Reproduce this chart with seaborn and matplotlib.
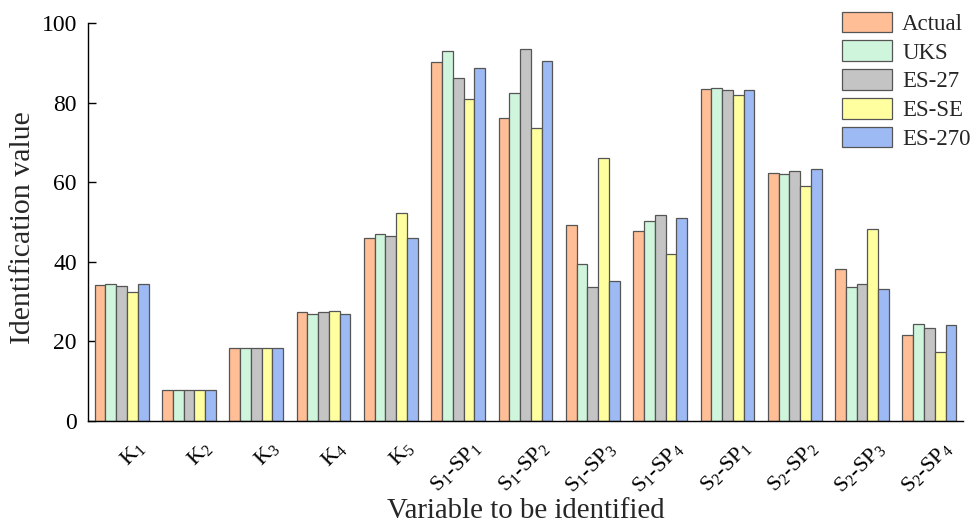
import numpy as np
import pandas as pd
import matplotlib
matplotlib.use("Agg")
import matplotlib.pyplot as plt
import matplotlib.transforms as mtransforms
import seaborn as sns

categories = [r"K$_1$", r"K$_2$", r"K$_3$", r"K$_4$", r"K$_5$",
              r"S$_1$-SP$_1$", r"S$_1$-SP$_2$", r"S$_1$-SP$_3$", r"S$_1$-SP$_4$",
              r"S$_2$-SP$_1$", r"S$_2$-SP$_2$", r"S$_2$-SP$_3$", r"S$_2$-SP$_4$"]
series_names = ["Actual", "UKS", "ES-27", "ES-SE", "ES-270"]
actual = [34.2, 7.9, 18.3, 27.3, 46.1, 90.3, 76.1, 49.2, 47.7, 83.3, 62.4, 38.1, 21.5]
uks    = [34.3, 7.8, 18.3, 27.0, 47.1, 93.0, 82.4, 39.5, 50.3, 83.6, 62.1, 33.7, 24.4]
es27   = [33.8, 7.9, 18.4, 27.3, 46.6, 86.3, 93.4, 33.7, 51.8, 83.1, 62.9, 34.5, 23.3]
esse   = [32.4, 7.7, 18.4, 27.7, 52.3, 80.8, 73.5, 66.2, 41.9, 81.8, 59.1, 48.2, 17.3]
es270  = [34.3, 7.9, 18.3, 27.0, 46.1, 88.6, 90.4, 35.1, 50.9, 83.2, 63.2, 33.2, 24.1]
colors = ["#FFBE96", "#CFF5DC", "#C4C4C4", "#FFFFA0", "#9DBAF5"]

rows = []
for name, vals in zip(series_names, [actual, uks, es27, esse, es270]):
    for c, v in zip(categories, vals):
        rows.append({"Variable": c, "Model": name, "Value": v})
df = pd.DataFrame(rows)

sns.set_theme(style="ticks")
plt.rcParams["font.family"] = ["Liberation Serif", "DejaVu Serif"]
plt.rcParams["mathtext.fontset"] = "custom"
plt.rcParams["mathtext.rm"] = "Liberation Serif"
plt.rcParams["mathtext.it"] = "Liberation Serif:italic"
plt.rcParams["mathtext.bf"] = "Liberation Serif:bold"
plt.rcParams["mathtext.default"] = "regular"

fig = plt.figure(figsize=(9.71, 5.26), dpi=100)
ax = fig.add_axes([0.0906, 0.1996, 0.9012, 0.7567])

sns.barplot(data=df, x="Variable", y="Value", hue="Model", order=categories,
            hue_order=series_names, palette=colors, width=0.8,
            edgecolor="#555555", linewidth=0.9, ax=ax, saturation=1)

ax.set_xlim(-0.5, 12.5)
ax.set_ylim(0, 100)
ax.set_yticks([0, 20, 40, 60, 80, 100])
ax.tick_params(axis="y", direction="in", length=6, width=1, labelsize=17,
               colors="black", pad=8)
ax.tick_params(axis="x", direction="in", length=4, width=1, labelsize=16,
               colors="black", pad=12)
offset = mtransforms.ScaledTranslation(0.27, 0, fig.dpi_scale_trans)
for lbl in ax.get_xticklabels():
    lbl.set_rotation(45)
    lbl.set_ha("right")
    lbl.set_va("top")
    lbl.set_transform(lbl.get_transform() + offset)
ax.set_xlabel("Variable to be identified", fontsize=20.8)
ax.xaxis.set_label_coords(0.5, -0.226)
ax.xaxis.label.set_va("center")
ax.set_ylabel("Identification value", fontsize=21.5)
ax.yaxis.set_label_coords(-0.074, 0.485)
ax.yaxis.label.set_va("center")
for s in ["top", "right"]:
    ax.spines[s].set_visible(False)
for s in ["left", "bottom"]:
    ax.spines[s].set_color("black")
    ax.spines[s].set_linewidth(1)

ax.legend(loc="upper right", bbox_to_anchor=(1.014, 1.04), frameon=False,
          fontsize=16.5, handlelength=2.18, handleheight=1.0,
          labelspacing=0.25, handletextpad=0.45, borderaxespad=0.0,
          borderpad=0.2)

fig.savefig("out.png", dpi=100)
